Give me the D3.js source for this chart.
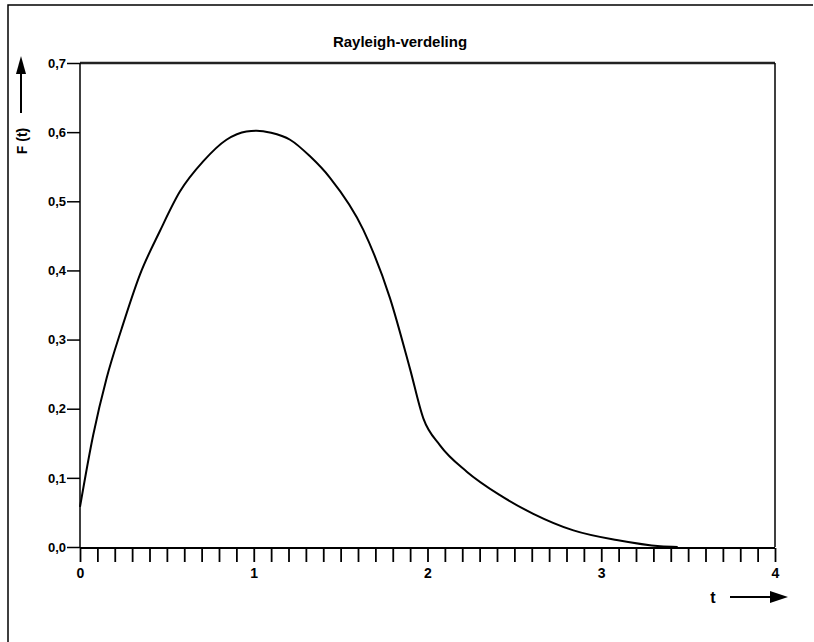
<!DOCTYPE html>
<html>
<head>
<meta charset="utf-8">
<script src="https://cdn.jsdelivr.net/npm/d3@7"></script>
<style>
  html, body { margin: 0; padding: 0; background: #fff; }
  svg { display: block; font-family: Arial, "Liberation Sans", sans-serif; }
  .tick text { font-weight: bold; fill: #000; }
</style>
</head>
<body>
<svg id="chart" width="814" height="642"></svg>
<script>
// curve (t, F(t))
const tValues = [0, 0.076, 0.153, 0.24, 0.345, 0.46, 0.575, 0.71, 0.843, 0.958, 1.017, 1.1, 1.209, 1.324, 1.439, 1.63, 1.784, 1.899, 1.976, 2.072, 2.226, 2.417, 2.609, 2.84, 3.089, 3.34, 3.44];
const fValues = [0.058, 0.162, 0.244, 0.316, 0.394, 0.457, 0.514, 0.558, 0.589, 0.601, 0.602, 0.599, 0.589, 0.565, 0.534, 0.459, 0.36, 0.258, 0.186, 0.147, 0.109, 0.075, 0.048, 0.024, 0.01, 0.001, 0];
const yTicks = [0, 0.1, 0.2, 0.3, 0.4, 0.5, 0.6, 0.7];
const xTicks = d3.range(0, 41).map((i) => i / 10);
const xLabels = [0, 1, 2, 3, 4];

const data = tValues.map((t, i) => ({ t, f: fValues[i] }));

const marginLeft = 80;
const marginRight = 39;
const marginTop = 63;
const marginBottom = 95;
const width = 814;
const height = 642;

const x = d3.scaleLinear().domain([0, 4]).range([marginLeft, width - marginRight]);
const y = d3.scaleLinear().domain([0, 0.7]).range([height - marginBottom, marginTop]);

const svg = d3.select("#chart");

// outer frame (left + top edge)
svg.append("path")
  .attr("d", `M8,${height}V5H813`)
  .attr("fill", "none")
  .attr("stroke", "#000")
  .attr("stroke-width", 1.5);

svg.append("text")
  .attr("x", 400)
  .attr("y", 47)
  .attr("text-anchor", "middle")
  .attr("font-size", 15)
  .attr("font-weight", "bold")
  .text("Rayleigh-verdeling");

// plot box: top and right
svg.append("line")
  .attr("x1", x(0)).attr("x2", x(4))
  .attr("y1", y(0.7)).attr("y2", y(0.7))
  .attr("stroke", "#222").attr("stroke-width", 2.5);
svg.append("line")
  .attr("x1", x(4)).attr("x2", x(4))
  .attr("y1", y(0.7)).attr("y2", y(0))
  .attr("stroke", "#000").attr("stroke-width", 1.5);

// y axis
svg.append("g")
  .attr("transform", `translate(${marginLeft},0)`)
  .call(
    d3.axisLeft(y)
      .tickValues(yTicks)
      .tickSize(13)
      .tickPadding(1)
      .tickFormat((d) => d3.format(".1f")(d).replace(".", ","))
  )
  .call((g) => g.select(".domain").attr("stroke-width", 1.5).attr("d", `M0,${y(0.7)}V${y(0)}`))
  .call((g) => g.selectAll(".tick line").attr("stroke-width", 1.5))
  .call((g) => g.selectAll(".tick text").attr("font-size", 13));

// x axis
svg.append("g")
  .attr("transform", `translate(0,${y(0) + 1})`)
  .call(
    d3.axisBottom(x)
      .tickValues(xTicks)
      .tickSize(14)
      .tickPadding(6)
      .tickFormat((d) => (xLabels.includes(Math.round(d * 10) / 10) ? d3.format("d")(d) : ""))
  )
  .call((g) => g.select(".domain").attr("stroke-width", 2).attr("d", `M${x(0)},0H${x(4)}`))
  .call((g) => g.selectAll(".tick line").attr("stroke-width", 1.8))
  .call((g) => g.selectAll(".tick text").attr("font-size", 14));

// curve
const line = d3.line()
  .x((d) => x(d.t))
  .y((d) => y(d.f))
  .curve(d3.curveMonotoneX);

svg.append("path")
  .datum(data)
  .attr("d", line)
  .attr("fill", "none")
  .attr("stroke", "#000")
  .attr("stroke-width", 2);

// y label + arrow
svg.append("text")
  .attr("transform", "translate(27,141) rotate(-90)")
  .attr("text-anchor", "middle")
  .attr("font-size", 14)
  .attr("font-weight", "bold")
  .text("F (t)");
svg.append("line")
  .attr("x1", 21).attr("x2", 21)
  .attr("y1", 113).attr("y2", 70)
  .attr("stroke", "#000").attr("stroke-width", 2);
svg.append("path")
  .attr("d", "M21,56L26,74H16Z")
  .attr("fill", "#000");

// x label + arrow
svg.append("text")
  .attr("x", 713)
  .attr("y", 603)
  .attr("text-anchor", "middle")
  .attr("font-size", 16)
  .attr("font-weight", "bold")
  .text("t");
svg.append("line")
  .attr("x1", 730).attr("x2", 772)
  .attr("y1", 597).attr("y2", 597)
  .attr("stroke", "#000").attr("stroke-width", 2);
svg.append("path")
  .attr("d", "M788,597L770,591V603Z")
  .attr("fill", "#000");
</script>
</body>
</html>
